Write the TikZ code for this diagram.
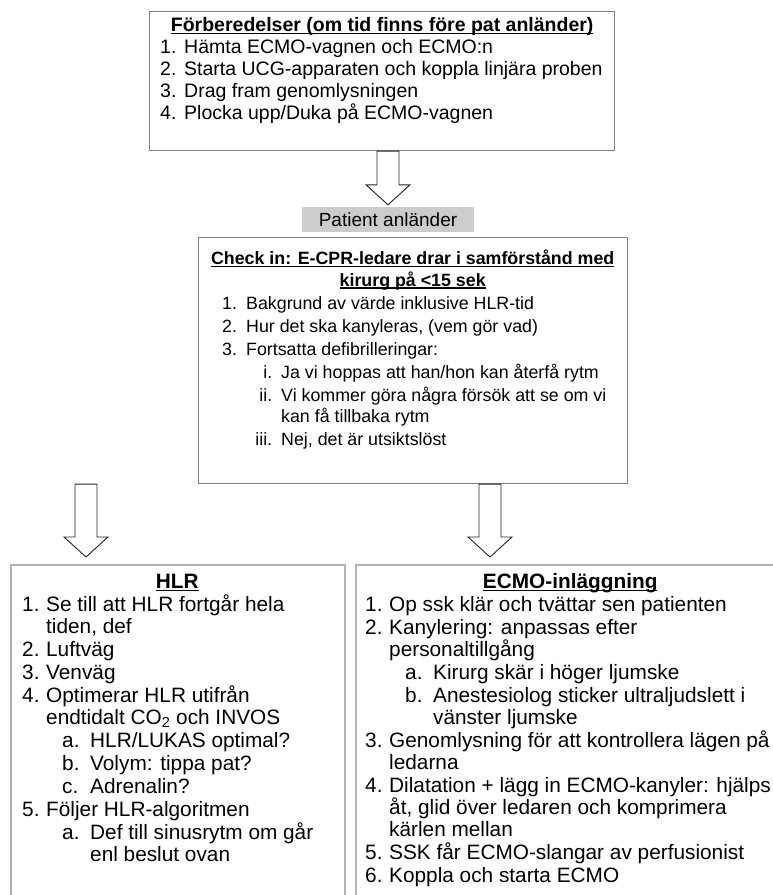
\documentclass[tikz,border=0pt]{standalone}
\usepackage{fontspec}
\setmainfont{Liberation Sans}
\usetikzlibrary{calc}

% rubrik med understrykning
\newcommand{\hd}[1]{\setbox0\hbox{\bfseries #1}\rlap{\rule[-2.6pt]{\wd0}{1.4pt}}\box0}
% punkter
\newcommand{\itm}[2]{\makebox[24pt][l]{#1}#2}
\newcommand{\cnt}[1]{\hspace*{24pt}#1}
\newcommand{\sitm}[2]{\hspace*{40pt}\makebox[28pt][l]{#1}#2}
\newcommand{\scnt}[1]{\hspace*{68pt}#1}
\newcommand{\ritm}[2]{\makebox[59pt][r]{#1\hspace{9pt}}#2}
\newcommand{\rcnt}[1]{\hspace*{59pt}#1}
% blockpil fran #1 (topp) till #2 (spets)
\newcommand{\blockarrow}[2]{%
  \draw[blockarr] ($(#1)+(-11,0)$) -- ($(#2)+(-11,-20)$) -- ($(#2)+(-22,-20)$)
    -- (#2) -- ($(#2)+(22,-20)$) -- ($(#2)+(11,-20)$) -- ($(#1)+(11,0)$) -- cycle;}

\tikzset{
  box/.style={draw=black!50, line width=1.1pt, fill=white, inner sep=0pt, anchor=north west},
  lowbox/.style={box, draw=black!30, line width=2pt},
  txt/.style={anchor=base west, inner sep=0pt},
  patbox/.style={fill=black!20, inner sep=0pt, minimum width=172pt, minimum height=25pt,
    font=\fontsize{19}{22}\selectfont},
  blockarr/.style={draw=black!85, line width=0.9pt, fill=white, line join=miter},
}

\begin{document}
\begin{tikzpicture}[x=1pt,y=-1pt]
\useasboundingbox (0,0) rectangle (773,895);
\clip (0,0) rectangle (773,895);

% forberedelser
\node[box, minimum width=465pt, minimum height=139pt] (prep) at (149,11) {};
\node[txt, font=\fontsize{19.5}{22}\selectfont] (preptxt) at (160,31.5) {\parbox[t]{500pt}{\raggedright
  \makebox[444pt]{\hd{Förberedelser (om tid finns före pat anländer)}}\\
  \itm{1.}{Hämta ECMO-vagnen och ECMO:n}\\
  \itm{2.}{Starta UCG-apparaten och koppla linjära proben}\\
  \itm{3.}{Drag fram genomlysningen}\\
  \itm{4.}{Plocka upp/Duka på ECMO-vagnen}}};

\node[patbox] (patient) at (388,219.5) {Patient anländer};

% check in
\node[box, minimum width=429pt, minimum height=246pt] (checkin) at (198,237) {};
\node[txt, font=\fontsize{17.8}{21.5}\selectfont] (checktxt) at (222,264.5) {\parbox[t]{500pt}{\raggedright
  \makebox[381pt]{\hd{Check in: E-CPR-ledare drar i samförstånd med}}\\
  \makebox[381pt]{\hd{kirurg på <15 sek}}\\[1.5pt]
  \itm{1.}{Bakgrund av värde inklusive HLR-tid}\\[1.5pt]
  \itm{2.}{Hur det ska kanyleras, (vem gör vad)}\\[1.5pt]
  \itm{3.}{Fortsatta defibrilleringar:}\\[1.5pt]
  \ritm{i.}{Ja vi hoppas att han/hon kan återfå rytm}\\[1.5pt]
  \ritm{ii.}{Vi kommer göra några försök att se om vi}\\
  \rcnt{kan få tillbaka rytm}\\[1.5pt]
  \ritm{iii.}{Nej, det är utsiktslöst}}};

% HLR
\node[lowbox, minimum width=334pt, minimum height=400pt] (hlr) at (10,564) {};
\node[txt, font=\fontsize{20.8}{22}\selectfont] (hlrtxt) at (22,588.5) {\parbox[t]{500pt}{\raggedright
  \makebox[310pt]{\hd{HLR}}\\[1pt]
  \itm{1.}{Se till att HLR fortgår hela}\\
  \cnt{tiden, def}\\[1pt]
  \itm{2.}{Luftväg}\\[1pt]
  \itm{3.}{Venväg}\\[1pt]
  \itm{4.}{Optimerar HLR utifrån}\\
  \cnt{endtidalt CO\textsubscript{2} och INVOS}\\[1pt]
  \sitm{a.}{HLR/LUKAS optimal?}\\[1pt]
  \sitm{b.}{Volym: tippa pat?}\\[1pt]
  \sitm{c.}{Adrenalin?}\\[1pt]
  \itm{5.}{Följer HLR-algoritmen}\\[1pt]
  \sitm{a.}{Def till sinusrytm om går}\\
  \scnt{enl beslut ovan}}};

% ECMO
\node[lowbox, minimum width=440pt, minimum height=400pt] (ecmo) at (355,564) {};
\node[txt, font=\fontsize{20.8}{22}\selectfont] (ecmotxt) at (365,588.5) {\parbox[t]{500pt}{\raggedright
  \makebox[410pt]{\hd{ECMO-inläggning}}\\[1pt]
  \itm{1.}{Op ssk klär och tvättar sen patienten}\\[1pt]
  \itm{2.}{Kanylering: anpassas efter}\\
  \cnt{personaltillgång}\\[1pt]
  \sitm{a.}{Kirurg skär i höger ljumske}\\[1pt]
  \sitm{b.}{Anestesiolog sticker ultraljudslett i}\\
  \scnt{vänster ljumske}\\[1pt]
  \itm{3.}{Genomlysning för att kontrollera lägen på}\\
  \cnt{ledarna}\\[1pt]
  \itm{4.}{Dilatation + lägg in ECMO-kanyler: hjälps}\\
  \cnt{åt, glid över ledaren och komprimera}\\
  \cnt{kärlen mellan}\\[1pt]
  \itm{5.}{SSK får ECMO-slangar av perfusionist}\\[1pt]
  \itm{6.}{Koppla och starta ECMO}}};

% pilar
\coordinate (a1top) at (prep.south -| patient.north);
\coordinate (a1tip) at ($(patient.north)+(0,-2)$);
\blockarrow{a1top}{a1tip}
\coordinate (hlrtip) at (86,557);
\coordinate (hlrtop) at (hlrtip |- checkin.south);
\blockarrow{hlrtop}{hlrtip}
\coordinate (ecmotip) at (490,557);
\coordinate (ecmotop) at (ecmotip |- checkin.south);
\blockarrow{ecmotop}{ecmotip}
\end{tikzpicture}
\end{document}
